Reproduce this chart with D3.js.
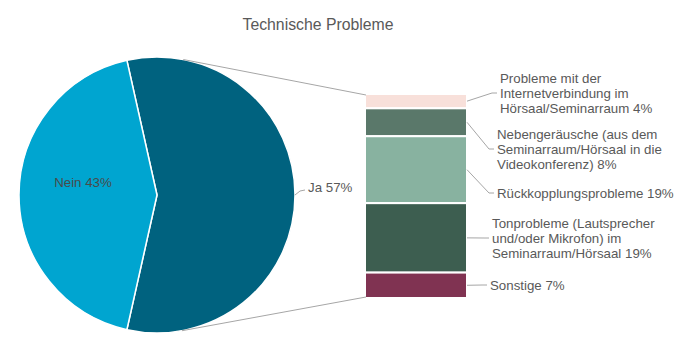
<!DOCTYPE html>
<html>
<head>
<meta charset="utf-8">
<script src="https://cdn.jsdelivr.net/npm/d3@7"></script>
<style>
  html, body { margin: 0; padding: 0; background: #fff; }
  svg { display: block; font-family: "Liberation Sans", Arial, sans-serif; }
</style>
</head>
<body>
<svg id="chart" width="700" height="358"></svg>
<script>
const title = "Technische Probleme";
const mainCategories = ["Ja", "Nein"];
const mainValues = [57, 43];
const mainColors = ["#00627f", "#00a5d0"];

const subCategories = [
  ["Probleme mit der", "Internetverbindung im", "Hörsaal/Seminarraum 4%"],
  ["Nebengeräusche (aus dem", "Seminarraum/Hörsaal in die", "Videokonferenz) 8%"],
  ["Rückkopplungsprobleme 19%"],
  ["Tonprobleme (Lautsprecher", "und/oder Mikrofon) im", "Seminarraum/Hörsaal 19%"],
  ["Sonstige 7%"]
];
const subValues = [4.0, 7.8, 18.7, 19.4, 7.1];
const subColors = ["#f8e0da", "#5a786a", "#88b2a0", "#3d5e50", "#803352"];

const svg = d3.select("#chart");
const textColor = "#595959";
const fs = 13.3;

svg.append("text")
  .attr("x", 318).attr("y", 30)
  .attr("text-anchor", "middle")
  .attr("font-size", 15.8)
  .attr("fill", textColor)
  .text(title);

// Pie
const cx = 157, cy = 195, R = 138;
const jaAngle = mainValues[0] / d3.sum(mainValues) * 2 * Math.PI;
const start = Math.PI / 2 - jaAngle / 2;
const pie = d3.pie().sort(null).startAngle(start).endAngle(start + 2 * Math.PI);
const arcs = pie(mainValues);
const arc = d3.arc().innerRadius(0).outerRadius(R);

const g = svg.append("g").attr("transform", `translate(${cx},${cy})`);
g.selectAll("path").data(arcs).join("path")
  .attr("d", arc)
  .attr("fill", (d, i) => mainColors[i])
  .attr("stroke", "#fff")
  .attr("stroke-width", 1.5)
  .attr("stroke-linejoin", "round");

// Bar of pie
const barX = 366, barW = 100;
const y = d3.scaleLinear().domain([0, d3.sum(subValues)]).range([94, 298]);
let cum = 0;
const segs = subValues.map((v, i) => { const s = { i, v, y0: cum, y1: cum + v }; cum += v; return s; });

svg.append("g").selectAll("rect").data(segs).join("rect")
  .attr("x", barX - 1).attr("width", barW + 2)
  .attr("y", d => y(d.y0))
  .attr("height", d => y(d.y1) - y(d.y0))
  .attr("fill", d => subColors[d.i])
  .attr("stroke", "#fff")
  .attr("stroke-width", 2);

// Tangent connector lines
function tangent(px, py, sign) {
  const dx = px - cx, dy = py - cy;
  const d = Math.hypot(dx, dy);
  const a = Math.atan2(dy, dx) + sign * Math.acos(R / d);
  return [cx + R * Math.cos(a), cy + R * Math.sin(a)];
}
const topY = y(0) + 1, botY = y(d3.sum(subValues)) - 1;
const t1 = tangent(barX, topY, -1);
const t2 = tangent(barX, botY, 1);
svg.append("line").attr("x1", t1[0]).attr("y1", t1[1]).attr("x2", barX).attr("y2", topY)
  .attr("stroke", "#a6a6a6").attr("stroke-width", 1);
svg.append("line").attr("x1", t2[0]).attr("y1", t2[1]).attr("x2", barX).attr("y2", botY)
  .attr("stroke", "#a6a6a6").attr("stroke-width", 1);

// Pie labels
const labelArc = d3.arc().innerRadius(74).outerRadius(74);
const neinC = labelArc.centroid(arcs[1]);
g.append("text")
  .attr("x", neinC[0]).attr("y", neinC[1] - 13)
  .attr("dy", "0.35em")
  .attr("text-anchor", "middle")
  .attr("font-size", fs)
  .attr("fill", "#4a4a4a")
  .text(`${mainCategories[1]} ${mainValues[1]}%`);

g.append("path")
  .attr("d", d3.line()([[R, 0], [R + 5, -4], [R + 10, -5]]))
  .attr("fill", "none").attr("stroke", "#a6a6a6");
g.append("text")
  .attr("x", R + 13).attr("y", -8)
  .attr("dy", "0.35em")
  .attr("font-size", fs)
  .attr("fill", textColor)
  .text(`${mainCategories[0]} ${mainValues[0]}%`);

// Sub labels
const labelPos = [
  { ty: 93, tx: 500 },
  { ty: 149, tx: 497 },
  { ty: 193, tx: 497 },
  { ty: 238, tx: 492 },
  { ty: 285, tx: 490 }
];
const lineH = 15;
segs.forEach((s, i) => {
  const lines = subCategories[i];
  const p = labelPos[i];
  const midY = (y(s.y0) + y(s.y1)) / 2;
  const sx = barX + barW + 1;
  const ex = p.tx - 3;
  const kx = p.tx - 8;
  svg.append("path")
    .attr("d", d3.line()([[sx, midY], [kx, p.ty], [ex, p.ty]]))
    .attr("fill", "none").attr("stroke", "#a6a6a6").attr("stroke-width", 1);
  const t = svg.append("text")
    .attr("font-size", fs)
    .attr("fill", textColor);
  const n = lines.length;
  lines.forEach((ln, k) => {
    t.append("tspan")
      .attr("x", p.tx)
      .attr("y", p.ty + (k - (n - 1) / 2) * lineH)
      .attr("dy", "0.35em")
      .text(ln);
  });
});
</script>
</body>
</html>
